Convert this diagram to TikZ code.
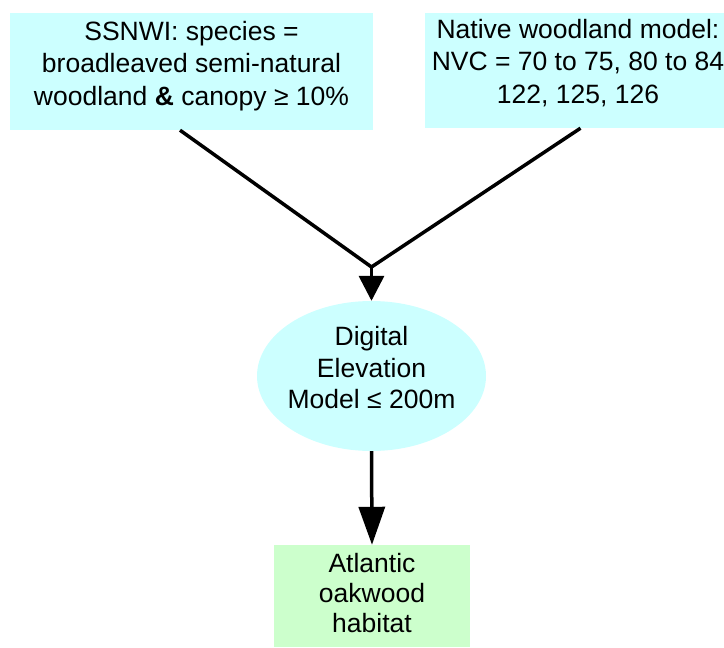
\documentclass[tikz,border=0pt]{standalone}
\usepackage{fontspec}
\setmainfont{Liberation Sans}
\usetikzlibrary{arrows.meta,shapes.geometric}
\definecolor{boxcyan}{HTML}{CCFFFF}
\definecolor{boxgreen}{HTML}{CCFFCC}
\tikzset{
  cyanbox/.style={rectangle, fill=boxcyan, draw=none, inner sep=0pt},
  greenbox/.style={rectangle, fill=boxgreen, draw=none, inner sep=0pt},
  oval/.style={ellipse, fill=boxcyan, draw=none, inner sep=0pt},
  txt/.style={align=center, inner sep=0pt, font=\fontsize{26.5}{32.5}\selectfont},
  conn/.style={line width=3.5pt, black},
  arr/.style={conn, -{Triangle[width=25pt,length=25pt]}},
  arrlong/.style={conn, -{Triangle[width=26pt,length=38pt]}},
}
\begin{document}
\begin{tikzpicture}[x=1pt,y=-1pt]
\useasboundingbox (0,0) rectangle (724,648);
\clip (0,0) rectangle (724,648);
% boxes
\node[cyanbox, minimum width=363pt, minimum height=117pt] (b1) at (191.5,71.5) {};
\node[txt] (t1) at (191.5,66) {SSNWI: species =\\broadleaved semi-natural\\woodland \textbf{\&} canopy ≥ 10\%};
\node[cyanbox, minimum width=311pt, minimum height=115pt] (b2) at (580.5,70.5) {};
\node[txt] (t2) at (578,63) {Native woodland model:\\NVC = 70 to 75, 80 to 84\\122, 125, 126};
\node[oval, minimum width=229pt, minimum height=150pt] (e) at (371.5,376) {};
\node[txt, font=\fontsize{26.5}{31.5}\selectfont] (te) at (371.5,368) {Digital\\Elevation\\Model ≤ 200m};
\node[greenbox, minimum width=196pt, minimum height=102pt] (b3) at (372,596) {};
\node[txt, font=\fontsize{26.5}{30}\selectfont] (t3) at (372,593) {Atlantic\\oakwood\\habitat};
% connectors
\coordinate (j) at (371.5,267);
\draw[conn] ([xshift=-11.5pt]b1.south) -- (j);
\draw[conn] (b2.south) -- (j);
\draw[arr] (j) -- (e.north);
\draw[arrlong] (e.south) -- (b3.north);
\end{tikzpicture}
\end{document}
